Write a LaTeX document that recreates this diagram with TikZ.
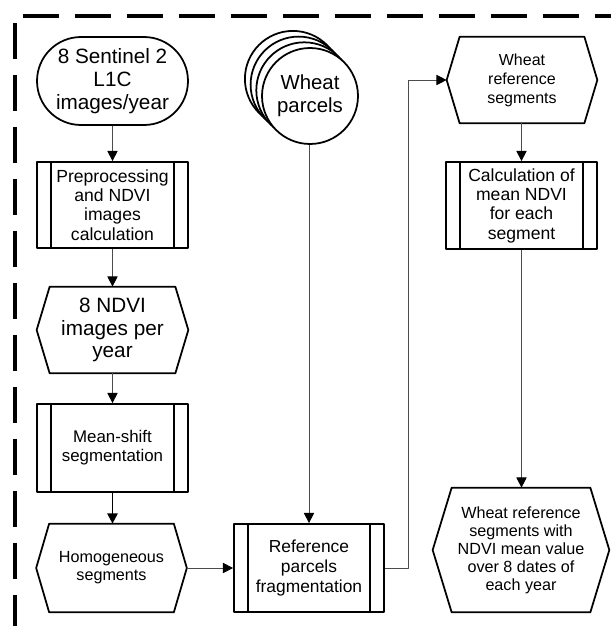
\documentclass[tikz,border=0pt]{standalone}
\usepackage{fontspec}
\setmainfont{Liberation Sans}
\usetikzlibrary{arrows.meta,shapes.misc,calc}
\begin{document}
\begin{tikzpicture}[>={Triangle[length=5.8pt,width=5.8pt,color=black]},line join=round,x=0.02cm,y=-0.02cm,
 box/.style={draw,line width=1pt,align=center,inner sep=0pt,minimum width=3.02cm,minimum height=1.74cm},
 term/.style={box,rounded rectangle},
 subproc/.style={box,rectangle,path picture={
   \draw[line width=1pt]
   ([xshift=0.28cm]path picture bounding box.north west)--([xshift=0.28cm]path picture bounding box.south west)
   ([xshift=-0.28cm]path picture bounding box.north east)--([xshift=-0.28cm]path picture bounding box.south east);}},
 hexbox/.style={align=center,inner sep=0pt,minimum width=3.02cm,minimum height=1.72cm},
 conn/.style={draw=black!70,line width=0.55pt},
 border/.style={line width=1.8pt,dash pattern=on 0.72cm off 0.32cm}]
 \useasboundingbox (0,0) rectangle (611,626);
 \draw[border] (23,16)--(611,16);
 \draw[border] (15,23)--(15,626);
 % left column
 \node[term,minimum height=1.76cm,font=\fontsize{11.8}{13.2}\selectfont] (start) at (112.5,81) {8 Sentinel 2\\L1C\\images/year};
 \node[subproc,minimum height=1.72cm,font=\fontsize{10}{11}\selectfont] (prep) at (112.5,205) {Preprocessing\\and NDVI\\images\\calculation};
 \node[hexbox,font=\fontsize{11.8}{12.8}\selectfont] (ndvi) at (112.5,330) {8 NDVI\\images per\\year};
 \node[subproc,minimum height=1.76cm,font=\fontsize{9.6}{10.8}\selectfont] (mshift) at (112.5,448) {Mean-shift\\segmentation};
 \node[hexbox,minimum width=3cm,minimum height=1.76cm,font=\fontsize{9.2}{10.3}\selectfont] (homog) at (111.5,568) {Homogeneous\\segments};
 % middle column
 \coordinate (pc) at (310,96);
 \foreach \k in {3,2,1}
  \draw[line width=1pt,fill=white] ($(pc)+(-\k*5.7,-\k*5.7)$) circle (0.96cm);
 \node[circle,draw,fill=white,line width=1pt,inner sep=0pt,minimum size=1.92cm,align=center,
  font=\fontsize{11.6}{13}\selectfont] (parcels) at (pc) {Wheat\\parcels};
 \node[subproc,minimum width=3cm,minimum height=1.76cm,font=\fontsize{9.9}{11.3}\selectfont] (ref) at (309,568) {Reference\\parcels\\fragmentation};
 % right column
 \node[hexbox,minimum width=3cm,font=\fontsize{9.1}{10.8}\selectfont] (wref) at (522,80) {Wheat\\reference\\segments};
 \node[subproc,minimum height=1.74cm,font=\fontsize{10}{11}\selectfont] (calc) at (521.5,205.5) {Calculation of\\mean NDVI\\for each\\segment};
 \node[hexbox,minimum width=3.52cm,minimum height=2.48cm,font=\fontsize{9.2}{10.2}\selectfont] (result) at (521,550) {Wheat reference\\segments with\\NDVI mean value\\over 8 dates of\\each year};
 \foreach \n/\d in {ndvi/13,homog/13,wref/13,result/19}
  \draw[line width=1pt] (\n.west)--([xshift=\d*0.02cm]\n.north west)--([xshift=-\d*0.02cm]\n.north east)
   --(\n.east)--([xshift=-\d*0.02cm]\n.south east)--([xshift=\d*0.02cm]\n.south west)--cycle;
 % connectors
 \draw[conn,->] (start)--(prep);
 \draw[conn,->] (prep)--(ndvi);
 \draw[conn,->] (ndvi)--(mshift);
 \draw[->,line width=1.1pt] (mshift)--(homog.north -| mshift);
 \draw[conn,->] (homog)--(ref);
 \draw[conn,->] (parcels.south -| ref)--(ref);
 \draw[conn,->] (ref.east)--++(24,0)|-(wref.west);
 \draw[conn,->] (wref.south -| calc)--(calc);
 \draw[conn,->] (calc)--(result.north -| calc);
\end{tikzpicture}
\end{document}
